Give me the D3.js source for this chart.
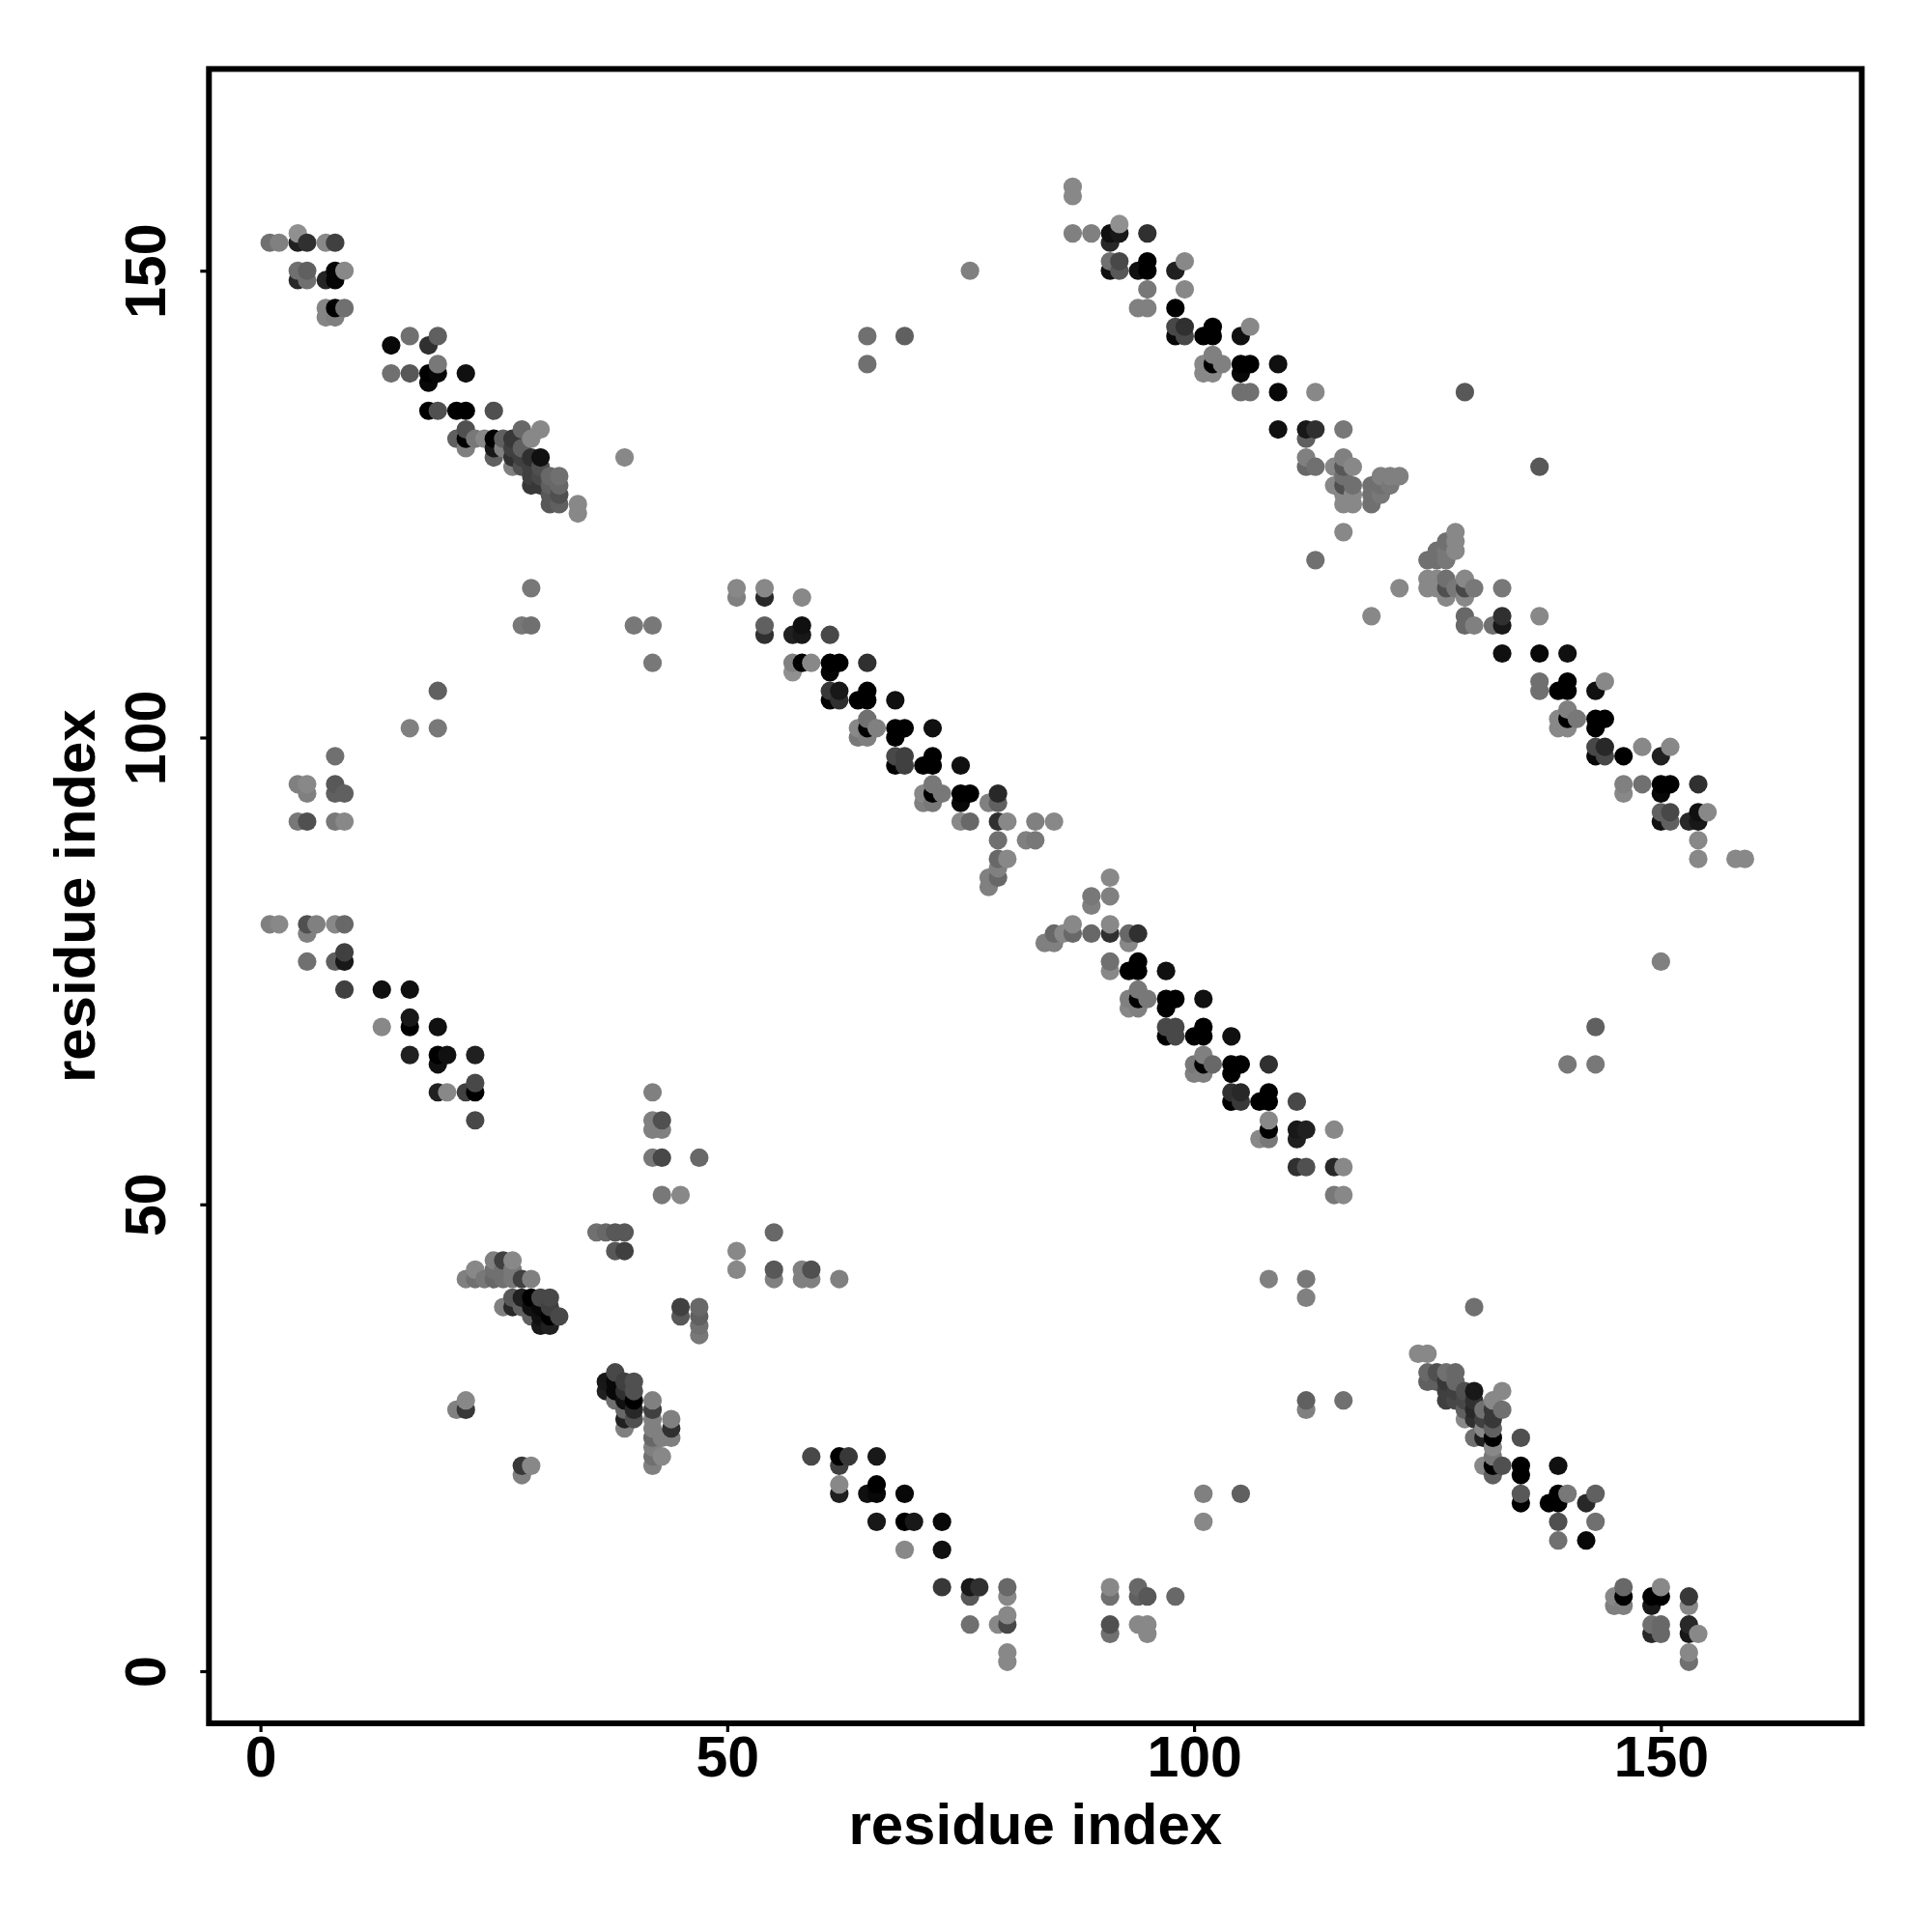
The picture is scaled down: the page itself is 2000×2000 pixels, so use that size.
<!DOCTYPE html>
<html><head><meta charset="utf-8">
<script src="https://cdn.jsdelivr.net/npm/d3@7"></script>
<style>html,body{margin:0;padding:0;background:#fff}svg{display:block}</style>
</head><body><svg id="c" width="2000" height="2000"></svg>
<script>
// [residue x, residue y, grey level]
const helixTopLeft=[[1,153,0x70],[2,153,0x80],[4,153,0x20],[4,154,0x90],[5,153,0x30],[7,153,0x88],[8,153,0x40],[4,150,0x70],[5,150,0x60],[4,149,0x28],[5,149,0x70],[7,149,0x25],[8,150,0x05],[8,149,0x05],[9,150,0x88],[7,146,0x85],[8,146,0x00],[9,146,0x70],[7,145,0x85],[8,145,0x80],
[14,142,0x08],[16,143,0x70],[18,142,0x30],[19,143,0x60],[14,139,0x70],[16,139,0x58],[18,139,0x00],[19,139,0x08],[18,138,0x08],[19,140,0x78],[22,139,0x10],[18,135,0x00],[19,135,0x50],[21,135,0x00],[22,135,0x00],[25,135,0x50],
[22,133,0x50],[21,132,0x60],[22,132,0x00],[22,131,0x80],[23,132,0x78],[24,132,0x88],[25,132,0x00],[25,131,0x18],[25,130,0x60],[26,132,0x60],[26,131,0x80],[27,132,0x38],[27,131,0x40],[27,130,0x30],[27,129,0x80],[28,133,0x68],[28,131,0x60],[28,130,0x40],[28,129,0x50],[29,132,0x88],[29,130,0x30],[29,129,0x40],[29,128,0x40],[29,127,0x38],[30,133,0x88],[30,130,0x10],[30,129,0x50],[30,128,0x48],[30,127,0x38],[31,128,0x68],[31,127,0x60],[31,126,0x58],[31,125,0x58],[32,128,0x70],[32,127,0x68],[32,126,0x50],[32,125,0x60],[34,125,0x88],[34,124,0x88],[39,130,0x88]];
const bandTopRight=[[87,159,0x88],[87,158,0x88],[87,154,0x80],[89,154,0x80],[91,154,0x10],[92,154,0x18],[91,153,0x28],[92,155,0x90],[95,154,0x30],[91,151,0x70],[92,151,0x48],[91,150,0x10],[92,150,0x58],[94,150,0x10],[95,151,0x00],[95,150,0x00],[98,150,0x20],[99,151,0x88],[95,148,0x78],[99,148,0x88],[94,146,0x80],[95,146,0x80],[98,146,0x00],[98,144,0x48],[99,144,0x30],[98,143,0x08],[99,143,0x48],[101,143,0x00],[102,144,0x00],[102,143,0x00],[105,143,0x10],[106,144,0x88],[101,140,0x88],[102,141,0x80],[102,140,0x00],[103,140,0x80],[101,139,0x88],[102,139,0x88],[105,140,0x00],[106,140,0x00],[105,139,0x08],[109,140,0x10],[105,137,0x70],[106,137,0x70],[109,137,0x08],[113,137,0x88],[109,133,0x10],[112,133,0x18],[113,133,0x30],[112,132,0x60],[116,133,0x78],[112,130,0x80],[112,129,0x68],[113,129,0x70],[115,129,0x88],[116,130,0x80],[116,129,0x58],[117,129,0x88],[115,127,0x88],[116,128,0x70],[116,127,0x50],[117,127,0x70],[116,126,0x88],[117,126,0x88],[116,125,0x88],[117,125,0x88],[119,127,0x70],[119,126,0x70],[119,125,0x70],[120,128,0x80],[120,127,0x70],[120,126,0x78],[121,128,0x80],[121,127,0x78],[122,128,0x80],[116,122,0x88]];
const bandFarRight=[[122,116,0x88],[119,113,0x88],[125,119,0x70],[125,117,0x88],[125,116,0x88],[126,120,0x70],[126,119,0x70],[126,117,0x88],[126,116,0x88],[127,121,0x70],[127,120,0x78],[127,119,0x78],[127,117,0x70],[127,116,0x50],[127,115,0x88],[128,122,0x88],[128,121,0x88],[128,120,0x88],[128,116,0x78],[129,117,0x88],[129,116,0x48],[129,115,0x88],[130,116,0x78],[129,113,0x68],[129,112,0x68],[130,112,0x80],[132,112,0x70],[133,113,0x30],[133,112,0x18],[133,116,0x78],[137,113,0x88],[133,109,0x10],[137,109,0x08],[140,109,0x10],[137,106,0x70],[137,105,0x70],[139,105,0x00],[140,106,0x00],[140,105,0x00],[143,105,0x10],[144,106,0x88],[139,102,0x88],[140,103,0x80],[140,102,0x00],[141,102,0x78],[139,101,0x88],[140,101,0x88],[143,102,0x00],[144,102,0x00],[143,101,0x00],[143,99,0x48],[144,99,0x28],[143,98,0x08],[144,98,0x48],[146,98,0x00],[148,99,0x88],[150,98,0x20],[151,99,0x88],[146,95,0x80],[146,94,0x88],[148,95,0x70],[150,95,0x00],[151,95,0x00],[150,94,0x08],[154,95,0x30],[150,92,0x60],[151,92,0x48],[150,91,0x10],[151,91,0x60],[153,91,0x28],[154,92,0x10],[154,91,0x18],[155,92,0x88],[154,89,0x88],[154,87,0x88],[158,87,0x88],[159,87,0x88]];
const bandCentreUpper=[[51,116,0x88],[51,115,0x80],[54,116,0x88],[54,115,0x28],[58,115,0x88],[54,112,0x60],[54,111,0x30],[57,111,0x20],[58,112,0x10],[58,111,0x18],[61,111,0x48],[57,108,0x80],[57,107,0x90],[58,108,0x00],[59,108,0x88],[61,108,0x00],[62,108,0x00],[61,107,0x05],[65,108,0x30],[61,105,0x38],[62,105,0x18],[61,104,0x00],[62,104,0x30],[64,104,0x00],[65,105,0x00],[65,104,0x00],[68,104,0x10],[64,101,0x88],[65,102,0x70],[65,101,0x00],[66,101,0x80],[64,100,0x78],[65,100,0x80],[68,101,0x00],[69,101,0x00],[68,100,0x00],[72,101,0x10],[68,98,0x48],[69,98,0x40],[68,97,0x00],[69,97,0x40],[71,97,0x00],[72,98,0x00],[72,97,0x00],[75,97,0x10],[71,94,0x88],[72,95,0x78],[72,94,0x00],[73,94,0x78],[71,93,0x80],[72,93,0x78],[75,94,0x00],[76,94,0x00],[75,93,0x08],[79,94,0x28],[78,93,0x80],[79,93,0x60],[75,91,0x88],[76,91,0x68],[79,91,0x30],[80,91,0x88],[83,91,0x80],[85,91,0x88],[79,89,0x70],[82,89,0x80],[83,89,0x78],[79,87,0x68],[80,87,0x88],[79,86,0x80],[78,85,0x80],[79,85,0x68],[78,84,0x80]];
const bandCentreLower=[[91,85,0x88],[89,83,0x78],[91,83,0x80],[89,82,0x80],[87,80,0x88],[84,78,0x80],[85,78,0x80],[85,79,0x68],[86,79,0x88],[87,79,0x68],[89,79,0x68],[91,80,0x88],[91,79,0x30],[93,79,0x68],[93,78,0x88],[94,79,0x30],[91,76,0x70],[91,75,0x88],[93,75,0x00],[94,76,0x00],[94,75,0x00],[97,75,0x10],[93,72,0x80],[94,73,0x78],[94,72,0x00],[95,72,0x78],[93,71,0x88],[94,71,0x80],[97,72,0x00],[98,72,0x00],[97,71,0x00],[101,72,0x10],[97,69,0x48],[98,69,0x48],[97,68,0x00],[98,68,0x48],[100,68,0x00],[101,69,0x00],[101,68,0x00],[104,68,0x10],[100,65,0x78],[101,66,0x80],[101,65,0x00],[102,65,0x68],[100,64,0x80],[101,64,0x80],[104,65,0x00],[105,65,0x00],[104,64,0x00],[108,65,0x30],[104,62,0x30],[105,62,0x28],[104,61,0x00],[105,61,0x38],[107,61,0x00],[108,62,0x00],[108,61,0x00],[111,61,0x48],[108,59,0x88],[108,58,0x00],[107,57,0x88],[108,57,0x78],[111,58,0x18],[112,58,0x20],[111,57,0x20],[115,58,0x88],[111,54,0x30],[112,54,0x50],[115,54,0x28],[116,54,0x88],[115,51,0x78],[116,51,0x88]];
const bandLeftMiddle=[[8,98,0x70],[4,95,0x80],[5,95,0x88],[5,94,0x80],[8,95,0x58],[8,94,0x60],[9,94,0x60],[4,91,0x78],[5,91,0x50],[8,91,0x78],[9,91,0x88],[1,80,0x80],[2,80,0x88],[5,80,0x50],[5,79,0x80],[6,80,0x80],[8,80,0x88],[9,80,0x68],[5,76,0x70],[8,76,0x60],[9,77,0x40],[9,76,0x18],[9,73,0x40],[13,73,0x10],[16,73,0x10],[13,69,0x88],[16,70,0x18],[16,69,0x00],[19,69,0x10],[16,66,0x20],[19,66,0x00],[20,66,0x10],[19,65,0x10],[23,66,0x20],[19,62,0x20],[20,62,0x88],[22,62,0x40],[23,63,0x48],[23,62,0x00],[23,59,0x48]];
const clusterCross=[[42,62,0x80],[42,59,0x80],[43,59,0x50],[42,58,0x80],[43,58,0x80],[42,55,0x78],[43,55,0x48],[47,55,0x68],[43,51,0x78],[45,51,0x88],[36,47,0x70],[37,47,0x68],[38,47,0x58],[39,47,0x58],[38,45,0x58],[39,45,0x40],[51,45,0x88],[51,43,0x88],
[25,44,0x80],[26,44,0x40],[27,44,0x88],[23,43,0x88],[25,43,0x70],[22,42,0x80],[23,42,0x70],[24,42,0x78],[25,42,0x68],[26,42,0x70],[26,43,0x70],[27,42,0x78],[27,43,0x78],[28,42,0x40],[29,42,0x80],
[26,39,0x80],[27,40,0x58],[27,39,0x28],[28,40,0x20],[28,39,0x60],[29,40,0x00],[29,39,0x10],[29,38,0x60],[30,40,0x48],[30,39,0x08],[30,38,0x10],[30,37,0x18],[31,40,0x48],[31,39,0x40],[31,38,0x00],[31,37,0x20],[32,38,0x48],
[45,39,0x40],[45,38,0x58],[47,39,0x68],[47,38,0x60],[47,37,0x70],[47,36,0x78]];
const clusterLower=[[21,28,0x80],[22,29,0x88],[22,28,0x38],[28,22,0x38],[28,21,0x80],[29,22,0x88],[38,32,0x48],[37,31,0x18],[37,30,0x20],[38,31,0x08],[38,30,0x08],[38,29,0x70],[39,31,0x40],[39,30,0x30],[39,29,0x10],[39,28,0x68],[39,27,0x20],[39,26,0x80],[40,31,0x50],[40,30,0x50],[40,29,0x00],[40,28,0x28],[40,27,0x50],[42,29,0x80],[42,28,0x40],[42,27,0x80],[42,26,0x80],[42,25,0x68],[42,24,0x80],[42,23,0x70],[42,22,0x80],[43,25,0x80],[43,23,0x88],[44,27,0x80],[44,26,0x30],[44,25,0x80]];
const bandBottomCentre=[[59,23,0x48],[62,23,0x00],[63,23,0x38],[62,22,0x40],[66,23,0x18],[62,20,0x88],[62,19,0x20],[65,19,0x10],[66,20,0x00],[66,19,0x08],[69,19,0x08],[66,16,0x18],[69,16,0x00],[70,16,0x18],[73,16,0x08],[69,13,0x88],[73,13,0x10],[73,9,0x38],[76,9,0x18],[77,9,0x30],[76,8,0x58],[80,9,0x68],[80,8,0x88],[76,5,0x70],[79,5,0x88],[80,6,0x88],[80,5,0x48],[80,2,0x88],[80,1,0x88],[91,9,0x88],[91,8,0x70],[94,9,0x68],[94,8,0x60],[95,8,0x58],[98,8,0x68],[91,5,0x50],[91,4,0x70],[94,5,0x88],[95,5,0x88],[95,4,0x88]];
const bandBottomRight=[[124,34,0x88],[125,34,0x88],[125,32,0x68],[125,31,0x60],[126,32,0x50],[126,31,0x60],[127,32,0x70],[127,31,0x38],[127,30,0x40],[127,29,0x40],[128,32,0x68],[128,31,0x68],[128,30,0x40],[128,29,0x48],[129,30,0x50],[129,29,0x48],[129,28,0x60],[129,27,0x88],[130,30,0x18],[130,29,0x30],[130,28,0x28],[130,27,0x30],[130,25,0x70],[131,28,0x70],[131,27,0x40],[131,26,0x88],[131,25,0x20],[131,22,0x88],[132,29,0x88],[132,28,0x38],[132,27,0x38],[132,26,0x60],[132,25,0x00],[132,24,0x88],[132,23,0x78],[132,22,0x00],[132,21,0x60],[133,30,0x88],[133,28,0x70],[133,22,0x50],[135,25,0x50],[135,22,0x00],[135,21,0x00],[135,19,0x58],[135,18,0x00],[139,22,0x10],[138,18,0x00],[139,19,0x00],[139,18,0x00],[140,19,0x78],[139,16,0x50],[139,14,0x70],[142,18,0x28],[143,19,0x60],[143,16,0x70],[142,14,0x08],
[145,8,0x88],[145,7,0x80],[146,9,0x68],[146,8,0x00],[146,7,0x80],[149,8,0x00],[150,8,0x00],[149,7,0x18],[150,9,0x88],[153,8,0x38],[153,7,0x88],[149,5,0x70],[150,5,0x68],[149,4,0x28],[150,4,0x68],[153,5,0x28],[153,4,0x18],[154,4,0x88],[153,2,0x88],[153,1,0x70]];
const scattered=[[76,150,0x80],[65,143,0x70],[65,140,0x70],[69,143,0x60],[129,137,0x58],[137,129,0x58],[113,119,0x70],[29,116,0x78],[28,112,0x78],[29,112,0x70],[40,112,0x78],[42,112,0x78],[42,108,0x78],[19,105,0x60],[16,101,0x80],[19,101,0x78],[150,76,0x80],[143,69,0x60],[140,65,0x78],[143,65,0x78],[55,47,0x68],[55,43,0x58],[55,42,0x80],[58,43,0x80],[58,42,0x80],[59,43,0x50],[59,42,0x80],[62,42,0x80],[108,42,0x80],[112,42,0x78],[112,40,0x80],[130,39,0x70],[112,29,0x60],[112,28,0x80],[116,29,0x70],[101,19,0x80],[101,16,0x88],[105,19,0x60]];
const xTickValues=[0,50,100,150];
const yTickValues=[0,50,100,150];
const xLabel="residue index";
const yLabel="residue index";

const points=[...helixTopLeft,...bandTopRight,...bandFarRight,...bandCentreUpper,...bandCentreLower,...bandLeftMiddle,...clusterCross,...clusterLower,...bandBottomCentre,...bandBottomRight,...scattered]
  .sort((a,b)=>d3.ascending(a[0],b[0])||d3.ascending(a[1],b[1]));

const L=216.3,R=1927.3,T=71.4,B=1784;
const unit=9.665;
const x=d3.scaleLinear().domain([0,150]).range([269.6,269.6+150*unit]);
const y=d3.scaleLinear().domain([0,150]).range([1730,1730-150*unit]);
const svg=d3.select("#c");
const font='"Liberation Sans",Arial,sans-serif';

svg.append("g").selectAll("circle").data(points).join("circle")
  .attr("cx",d=>x(d[0])).attr("cy",d=>y(d[1])).attr("r",9.6)
  .attr("fill",d=>d3.rgb(d[2],d[2],d[2]).formatHex());

svg.append("rect").attr("x",L).attr("y",T).attr("width",R-L).attr("height",B-T)
  .attr("fill","none").attr("stroke","#000").attr("stroke-width",6);

const gx=svg.append("g").attr("transform",`translate(0,${B})`)
  .call(d3.axisBottom(x).tickValues(xTickValues).tickSize(9).tickPadding(0).tickFormat(d3.format("d")));
const gy=svg.append("g").attr("transform",`translate(${L},0)`)
  .call(d3.axisLeft(y).tickValues(yTickValues).tickSize(9).tickPadding(0).tickFormat(d3.format("d")));
[gx,gy].forEach(g=>{g.select(".domain").remove();
  g.selectAll(".tick line").attr("stroke","#000").attr("stroke-width",3.2);
  g.selectAll(".tick text").attr("fill","#000").style("font-family",font).style("font-weight","700").style("font-size","59px");});
gx.selectAll(".tick text").attr("y",55).attr("dy",null).attr("text-anchor","middle");
gy.selectAll(".tick text").attr("x",null).attr("dy",null).attr("text-anchor","middle")
  .attr("transform","translate(-45.3,0) rotate(-90)");

svg.append("text").attr("x",(L+R)/2).attr("y",1909).attr("text-anchor","middle")
  .style("font-family",font).style("font-weight","700").style("font-size","60px").text(xLabel);
svg.append("text").attr("transform",`translate(97.5,${(T+B)/2}) rotate(-90)`).attr("text-anchor","middle")
  .style("font-family",font).style("font-weight","700").style("font-size","60px").text(yLabel);
</script></body></html>
